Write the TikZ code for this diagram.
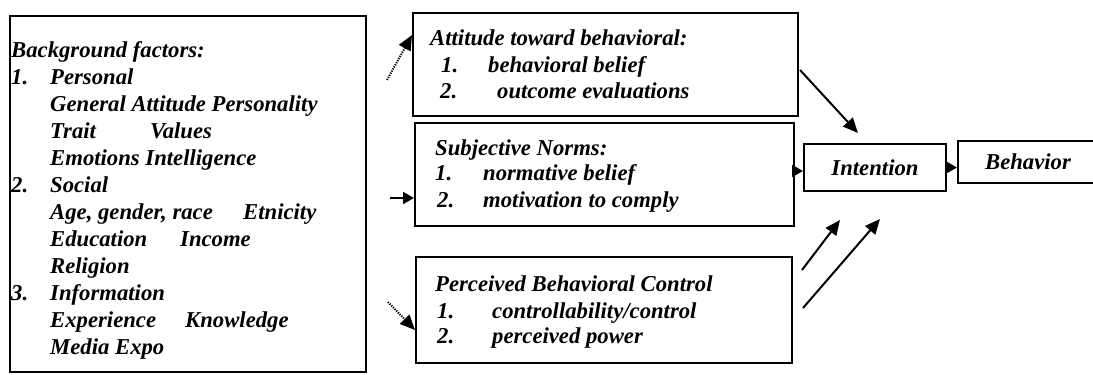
\documentclass[tikz,border=0pt]{standalone}
\usepackage{fontspec}
\setmainfont{Liberation Serif}
\usetikzlibrary{arrows.meta}
\newcommand{\dfont}{\fontsize{22.7}{26}\selectfont\bfseries\itshape}
\begin{document}
\begin{tikzpicture}[x=1pt,y=-1pt,
  txt/.style={font=\dfont, inner sep=0pt, anchor=base west},
  frame/.style={draw, line width=2pt, inner sep=0pt, anchor=north west},
  arr/.style={line width=2pt, -{Triangle[length=15pt,width=13pt]}},
  shortarr/.style={line width=2pt, -{Triangle[length=11pt,width=12pt]}},
  dotarr/.style={arr, dash pattern=on 1.2pt off 1.2pt}]
\clip (0,0) rectangle (1093,375);
\fill[white] (0,0) rectangle (1093,375);

% frames
\node[frame, minimum width=356pt, minimum height=356pt] (bg) at (9,15) {};
\node[frame, minimum width=385pt, minimum height=103pt] (att) at (412,12) {};
\node[frame, minimum width=379pt, minimum height=103pt] (subj) at (414,122) {};
\node[frame, minimum width=376pt, minimum height=106pt] (pbc) at (415,256) {};
\node[frame, font=\dfont, minimum width=142pt, minimum height=47pt] (int) at (803,143) {Intention};
\node[frame, font=\dfont, minimum width=140pt, minimum height=42pt] (beh) at (957,140) {Behavior};

% background factors
\node[txt] (bg1)  at (11,57)  {Background factors:};
\node[txt] (bg2)  at (11,84)  {\makebox[39pt][l]{1.}Personal};
\node[txt] (bg3)  at (50,111) {General Attitude Personality};
\node[txt] (bg4)  at (50,138) {\makebox[100pt][l]{Trait}Values};
\node[txt] (bg5)  at (50,165) {Emotions Intelligence};
\node[txt] (bg6)  at (11,192) {\makebox[39pt][l]{2.}Social};
\node[txt] (bg7)  at (50,219) {\makebox[193pt][l]{Age, gender, race}Etnicity};
\node[txt] (bg8)  at (50,246) {\makebox[130pt][l]{Education}Income};
\node[txt] (bg9)  at (50,273) {Religion};
\node[txt] (bg10) at (11,300) {\makebox[39pt][l]{3.}Information};
\node[txt] (bg11) at (50,327) {\makebox[135pt][l]{Experience}Knowledge};
\node[txt] (bg12) at (50,354) {Media Expo};

% attitude
\node[txt] (at1) at (430,45) {Attitude toward behavioral:};
\node[txt] (at2) at (441,72) {\makebox[47pt][l]{1.}behavioral belief};
\node[txt] (at3) at (440,98) {\makebox[57pt][l]{2.}outcome evaluations};

% subjective norms
\node[txt] (sn1) at (435,155) {Subjective Norms:};
\node[txt] (sn2) at (435,180) {\makebox[48pt][l]{1.}normative belief};
\node[txt] (sn3) at (437,207) {\makebox[46pt][l]{2.}motivation to comply};

% perceived behavioral control
\node[txt] (pc1) at (435,291) {Perceived Behavioral Control};
\node[txt] (pc2) at (437,318) {\makebox[55pt][l]{1.}controllability/control};
\node[txt] (pc3) at (437,343) {\makebox[55pt][l]{2.}perceived power};

% connectors
\coordinate (s1) at (387,80);
\draw[dotarr] (s1) -- ([yshift=-23pt]att.north west);
\coordinate (s2) at (390,198);
\draw[shortarr] (s2) -- (s2 -| subj.west);
\coordinate (s3) at (388,302);
\draw[dotarr] (s3) -- ([yshift=-74pt]pbc.north west);
\draw[shortarr] ([yshift=-3.5pt]int.west -| subj.east) -- ([yshift=-3.5pt]int.west);
\draw[shortarr] (int.east) -- (int.east -| beh.west);
\coordinate (s4) at (800,70);
\draw[arr] (s4) -- ([xshift=-17pt,yshift=10pt]int.north);
\coordinate (s5) at (802,270);
\draw[arr] (s5) -- ([xshift=-35pt,yshift=-28pt]int.south);
\coordinate (s6) at (803,308);
\draw[arr] (s6) -- ([xshift=5pt,yshift=-27pt]int.south);
\end{tikzpicture}
\end{document}
